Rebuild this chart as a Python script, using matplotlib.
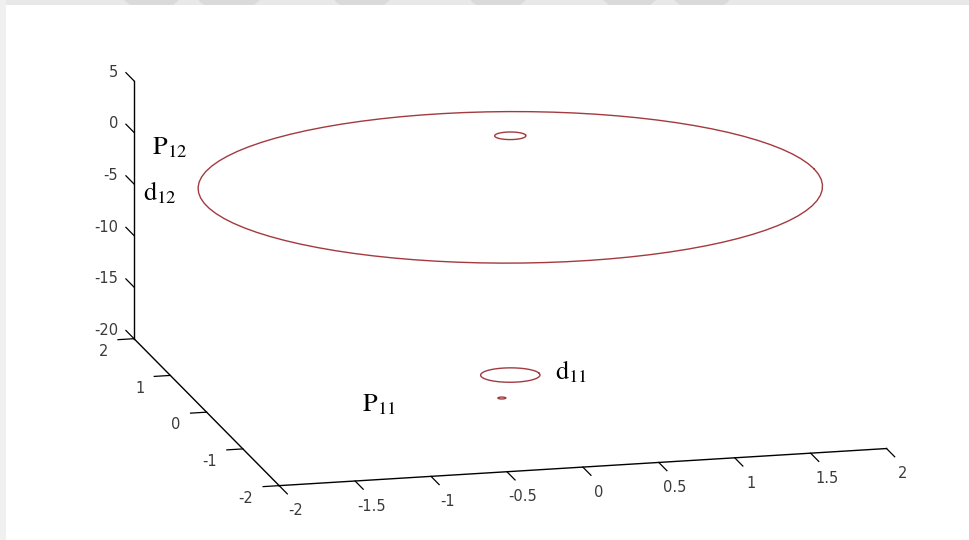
import numpy as np
import matplotlib
matplotlib.use("Agg")
import matplotlib.pyplot as plt
from matplotlib.patches import Rectangle, Polygon

# Circles traced in the plot: centre (x, y), height z and radius
circle_names = ["P12", "d12_top", "d11", "P11"]
circle_cx = [0.0, 0.0, 0.0, -0.08]
circle_cy = [0.0, 0.0, 0.0, -0.10]
circle_z = [0.0, 5.0, -18.2, -20.0]
circle_r = [2.0, 0.1, 0.19, 0.025]

x_ticks = [-2, -1.5, -1, -0.5, 0, 0.5, 1, 1.5, 2]
x_tick_labels = ["-2", "-1.5", "-1", "-0.5", "0", "0.5", "1", "1.5", "2"]
y_ticks = [-2, -1, 0, 1, 2]
y_tick_labels = ["-2", "-1", "0", "1", "2"]
z_ticks = [-20, -15, -10, -5, 0, 5]
z_tick_labels = ["-20", "-15", "-10", "-5", "0", "5"]

# Text labels placed on the figure (label, x px, y px)
annot_text = [r"$\mathrm{P}_{12}$", r"$\mathrm{d}_{12}$", r"$\mathrm{d}_{11}$", r"$\mathrm{P}_{11}$"]
annot_px = [(152, 147), (143, 193), (555, 372), (362, 404)]

W, H = 970, 540
plt.rcParams["mathtext.fontset"] = "stix"
fig = plt.figure(figsize=(W / 100, H / 100), dpi=100)
fig.patch.set_facecolor("white")

ax = fig.add_axes([18 / W, -2 / H, 1.0, 1.0], projection="3d", proj_type="ortho")
ax.set_facecolor("none")
ax.view_init(elev=14.4, azim=-103.8)
ax.set_box_aspect((625, 608, 266), zoom=1.64)

line_color = "#a33a3f"
t = np.linspace(0, 2 * np.pi, 90)
for cx, cy, cz, r in zip(circle_cx, circle_cy, circle_z, circle_r):
    ln, = ax.plot(cx + r * np.cos(t), cy + r * np.sin(t), np.full_like(t, cz),
                  color=line_color, lw=1.0)
    ln.set_clip_on(False)

ax.set_xlim(-2, 2)
ax.set_ylim(-2, 2)
ax.set_zlim(-20, 5)
ax.set_xticks(x_ticks, x_tick_labels)
ax.set_yticks(y_ticks, y_tick_labels)
ax.set_zticks(z_ticks, z_tick_labels)
ax.grid(False)

# tick direction (0=x, 1=y, 2=z), tick length, label offset and label shift weights
tick_dir = {"x": 1, "y": 0, "z": 1}
tick_len = {"x": -0.7, "y": -0.33, "z": 0.7}
label_pad = {"x": 14.5, "y": 0.6, "z": 14}
label_ha = {"x": "center", "y": "right", "z": "right"}
label_mask = {"x": [0.0, 1.0, 0.05], "y": [1.0, 0.0, 0.34], "z": [0.0, 1.0, 0.0]}
for name, axis in (("x", ax.xaxis), ("y", ax.yaxis), ("z", ax.zaxis)):
    axis.set_pane_color((1, 1, 1, 0))
    axis.pane.set_edgecolor((1, 1, 1, 0))
    axis.line.set_color("black")
    axis.line.set_linewidth(1.0)
    axis.set_tick_params(labelsize=10.5, labelcolor="#3a3a3a", colors="black",
                         pad=label_pad[name])
    for lab in axis.get_ticklabels():
        lab.set_horizontalalignment(label_ha[name])
    axis._axinfo["tick"]["inward_factor"] = 0.0
    axis._axinfo["tick"]["outward_factor"] = tick_len[name]
    axis._axinfo["tick"]["linewidth"] = {True: 0.9, False: 0.9}
    axis._get_tickdir = (lambda d: (lambda position: d))(tick_dir[name])
    axis._axmask = (lambda m: (lambda: np.array(m)))(label_mask[name])

for txt, (px, py) in zip(annot_text, annot_px):
    fig.text(px / W, 1 - py / H, txt, fontsize=19, ha="left", va="center", color="black")

# Light grey frame along the top and left edges
fig.patches.append(Rectangle((0, 1 - 5 / H), 1, 5 / H, transform=fig.transFigure,
                             facecolor="#e8e8e8", edgecolor="none", zorder=-1))
fig.patches.append(Rectangle((0, 0), 6 / W, 1, transform=fig.transFigure,
                             facecolor="#f0f0f0", edgecolor="none", zorder=-1))
for x0, x1 in [(124, 179), (198, 260), (334, 390), (470, 526), (603, 656), (674, 730)]:
    fig.patches.append(Polygon([(x0 / W, 1), (x1 / W, 1), ((x1 - 6) / W, 1 - 5 / H),
                                ((x0 + 6) / W, 1 - 5 / H)], transform=fig.transFigure,
                               facecolor="#dadada", edgecolor="none", zorder=-1))

fig.savefig("out.png", dpi=100)
